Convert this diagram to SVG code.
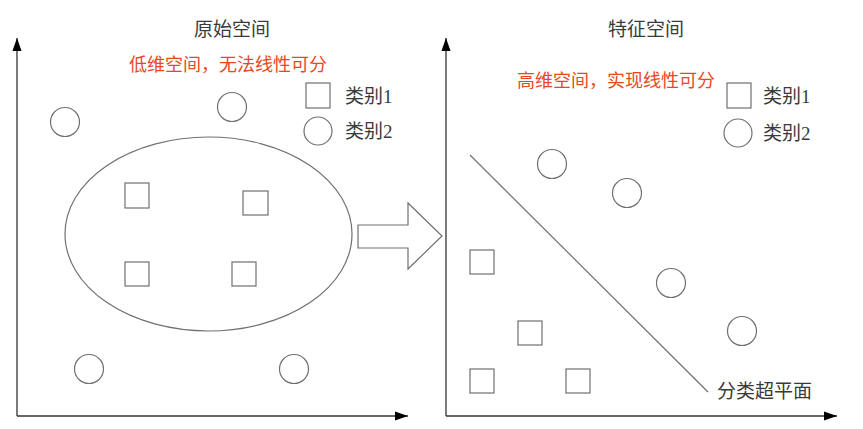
<svg xmlns="http://www.w3.org/2000/svg" width="863" height="429" viewBox="0 0 863 429">
<style>
.shape{fill:none;stroke:#707070;stroke-width:1.2}
.axis{fill:none;stroke:#333;stroke-width:1.3}
.t{font-family:"Liberation Serif","Noto Sans CJK SC",serif;font-size:19px;fill:#3a3a3a}
.r{font-family:"Noto Sans CJK SC",sans-serif;font-size:18px;fill:#e8481e;text-anchor:middle}
</style>
<defs>
<marker id="ah" viewBox="0 0 10 10" refX="10" refY="5" markerWidth="13" markerHeight="13" markerUnits="userSpaceOnUse" orient="auto">
<path d="M0,1.5 L10,5 L0,8.5 z" fill="#000"/>
</marker>
</defs>
<rect x="0" y="0" width="863" height="429" fill="#fff"/>
<g id="connectors">
<line class="axis" x1="17" y1="416" x2="17" y2="38" marker-end="url(#ah)"/>
<line class="axis" x1="17" y1="416" x2="408" y2="416" marker-end="url(#ah)"/>
<line class="axis" x1="446" y1="416" x2="446" y2="38" marker-end="url(#ah)"/>
<line class="axis" x1="446" y1="416" x2="837" y2="416" marker-end="url(#ah)"/>
<path id="bigarrow" class="shape" d="M358,225 L408,225 L408,203 L442,236 L408,269 L408,248 L358,248 Z"/>
<line id="hyperplane" class="shape" x1="470" y1="155" x2="708" y2="392"/>
</g>
<g id="left-panel">
<text class="t" x="232" y="36" text-anchor="middle">原始空间</text>
<text class="r" x="228" y="71">低维空间，无法线性可分</text>
<g id="legend-left">
<rect class="shape" x="306" y="83" width="24" height="25"/>
<text class="t" x="345" y="103">类别1</text>
<circle class="shape" cx="318" cy="131" r="14"/>
<text class="t" x="345" y="138">类别2</text>
</g>
<ellipse id="ellipse" class="shape" cx="208.5" cy="234" rx="143.5" ry="97"/>
<g id="left-squares">
<rect class="shape" x="125" y="183" width="24" height="25"/>
<rect class="shape" x="243" y="191" width="25" height="24"/>
<rect class="shape" x="125" y="262" width="24" height="24"/>
<rect class="shape" x="232" y="262" width="24" height="24"/>
</g>
<g id="left-circles">
<circle class="shape" cx="65" cy="122" r="14.5"/>
<circle class="shape" cx="232" cy="107" r="14.5"/>
<circle class="shape" cx="89" cy="369" r="14.5"/>
<circle class="shape" cx="294" cy="369" r="14.5"/>
</g>
</g>
<g id="right-panel">
<text class="t" x="646" y="36" text-anchor="middle">特征空间</text>
<text class="r" x="616" y="87">高维空间，实现线性可分</text>
<g id="legend-right">
<rect class="shape" x="727" y="83" width="24" height="25"/>
<text class="t" x="763" y="103">类别1</text>
<circle class="shape" cx="738" cy="133" r="14"/>
<text class="t" x="763" y="140">类别2</text>
</g>
<text class="t" x="717" y="398">分类超平面</text>
<g id="right-squares">
<rect class="shape" x="470" y="250" width="24" height="24"/>
<rect class="shape" x="518" y="321" width="24" height="24"/>
<rect class="shape" x="470" y="369" width="24" height="24"/>
<rect class="shape" x="566" y="369" width="24" height="24"/>
</g>
<g id="right-circles">
<circle class="shape" cx="552" cy="164" r="14.5"/>
<circle class="shape" cx="627" cy="193" r="14.5"/>
<circle class="shape" cx="671" cy="283" r="14.5"/>
<circle class="shape" cx="742" cy="331" r="14.5"/>
</g>
</g>
</svg>
